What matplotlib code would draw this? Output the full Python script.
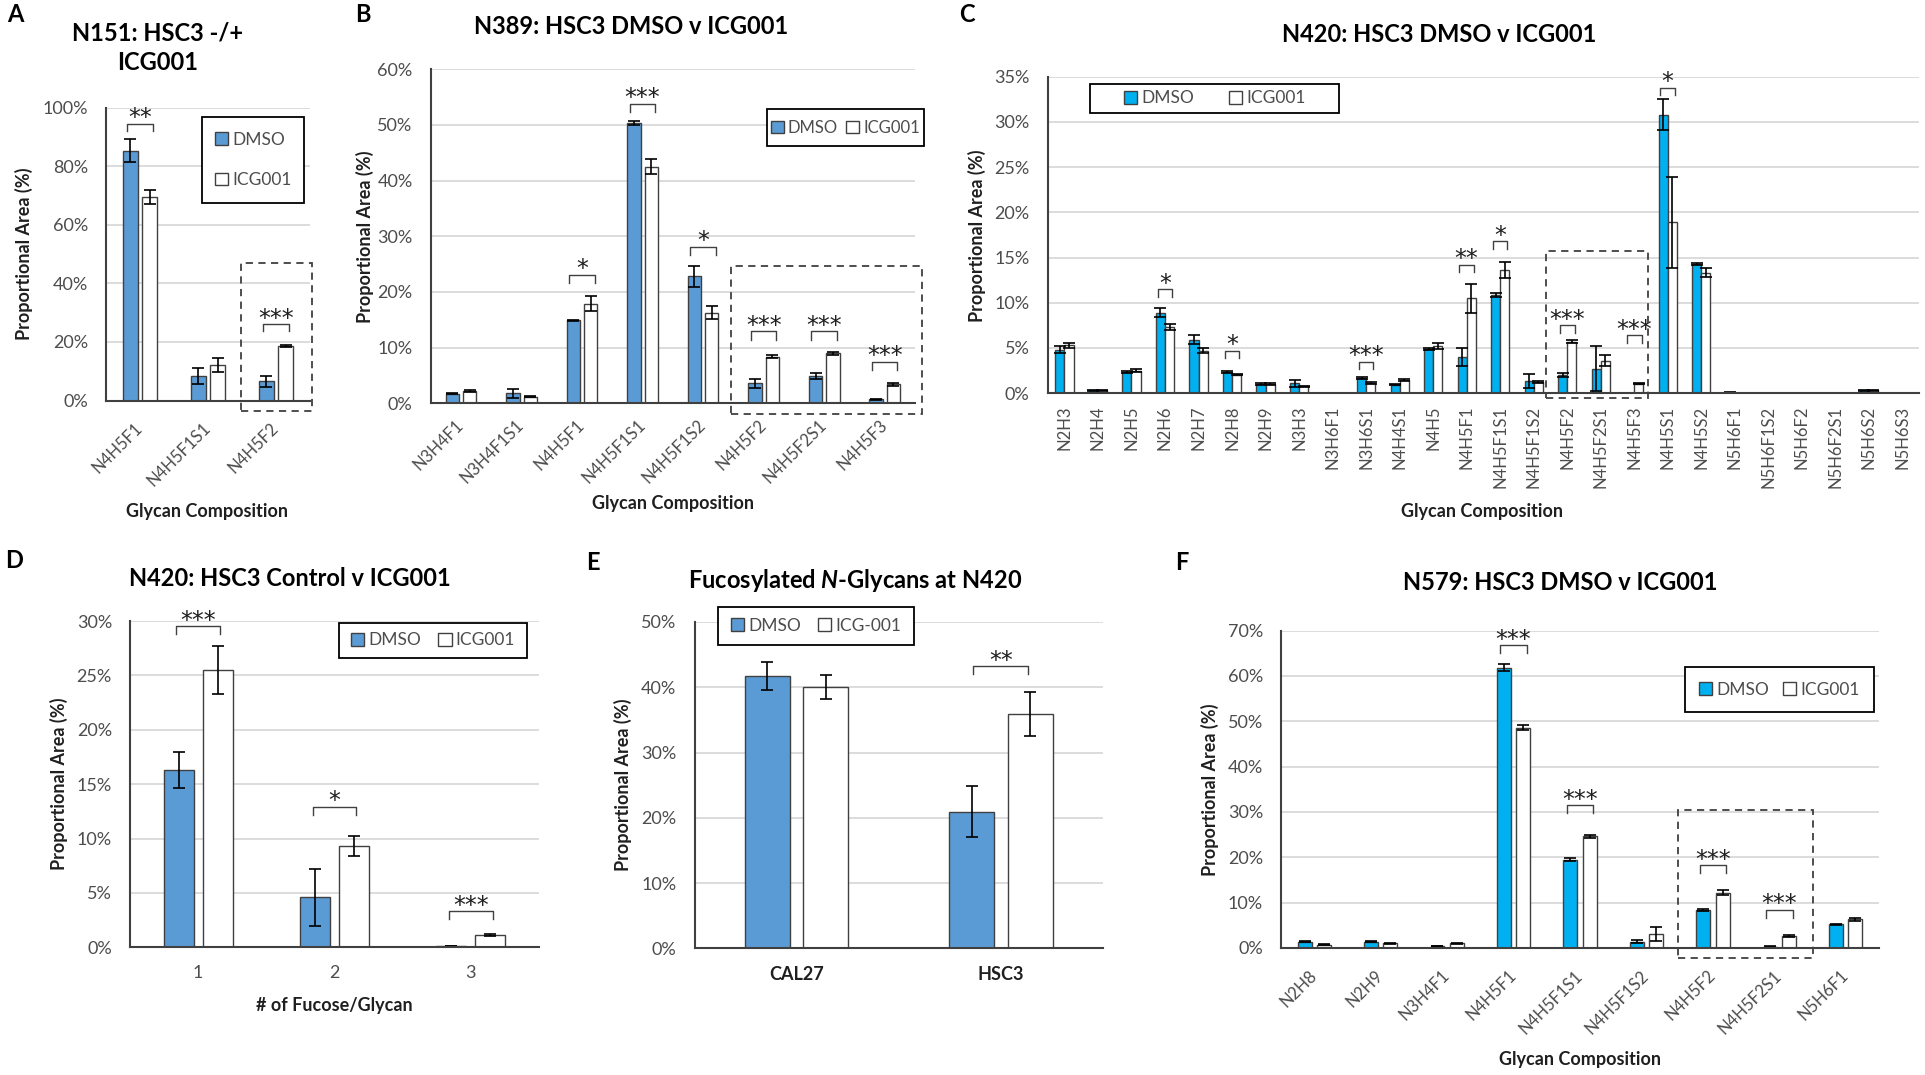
import numpy as np
import matplotlib
matplotlib.use("Agg")
import matplotlib.pyplot as plt
from matplotlib.patches import Patch, Rectangle
from matplotlib.ticker import PercentFormatter, MultipleLocator

plt.rcParams['font.family'] = ['Lato', 'DejaVu Sans']
plt.rcParams['mathtext.fontset'] = 'custom'
plt.rcParams['mathtext.it'] = 'Lato:italic:bold'
plt.rcParams['mathtext.rm'] = 'Lato:bold'

BLUE = '#5B9BD5'
CYAN = '#00B0F0'
EDGE = '#404040'
GRID = '#D9D9D9'
TICK = '#4D4D4D'
DARK = '#1F1F1F'

# ---------------- data (% proportional area) ----------------
# A  N151
a_cats = ['N4H5F1', 'N4H5F1S1', 'N4H5F2']
a_dmso = [85.3, 8.4, 6.6]
a_dmso_err = [4.0, 2.8, 1.8]
a_icg = [69.5, 12.1, 18.5]
a_icg_err = [2.5, 2.3, 0.3]
a_sig = [(0, '**', 94.5), (2, '***', 26)]

# B  N389
b_cats = ['N3H4F1', 'N3H4F1S1', 'N4H5F1', 'N4H5F1S1', 'N4H5F1S2', 'N4H5F2', 'N4H5F2S1', 'N4H5F3']
b_dmso = [1.7, 1.8, 14.9, 50.4, 22.8, 3.6, 4.9, 0.7]
b_dmso_err = [0.1, 0.8, 0.1, 0.4, 1.9, 0.8, 0.6, 0.1]
b_icg = [2.2, 1.2, 17.9, 42.5, 16.3, 8.4, 9.0, 3.4]
b_icg_err = [0.1, 0.1, 1.4, 1.3, 1.1, 0.2, 0.3, 0.3]
b_sig = [(2, '*', 23.1), (3, '***', 53.8), (4, '*', 28.1), (5, '***', 12.9), (6, '***', 12.9), (7, '***', 7.5)]

# C  N420
c_cats = ['N2H3', 'N2H4', 'N2H5', 'N2H6', 'N2H7', 'N2H8', 'N2H9', 'N3H3', 'N3H6F1', 'N3H6S1',
          'N4H4S1', 'N4H5', 'N4H5F1', 'N4H5F1S1', 'N4H5F1S2', 'N4H5F2', 'N4H5F2S1', 'N4H5F3',
          'N4H5S1', 'N4H5S2', 'N5H6F1', 'N5H6F1S2', 'N5H6F2', 'N5H6F2S1', 'N5H6S2', 'N5H6S3']
c_dmso = [4.8, 0.3, 2.35, 8.9, 5.9, 2.3, 1.05, 1.1, 0, 1.7, 0.95, 4.9, 4.0, 10.85, 1.35, 2.0, 2.7, 0.05,
          30.8, 14.3, 0.1, 0, 0, 0, 0.3, 0.05]
c_dmso_err = [0.4, 0.05, 0.1, 0.5, 0.5, 0.1, 0.1, 0.4, 0, 0.1, 0.05, 0.1, 1.0, 0.2, 0.8, 0.2, 2.5, 0,
              1.7, 0.1, 0.05, 0, 0, 0, 0.05, 0]
c_icg = [5.3, 0.3, 2.5, 7.3, 4.7, 2.05, 1.05, 0.75, 0, 1.1, 1.5, 5.2, 10.5, 13.6, 1.2, 5.7, 3.6, 1.05,
         18.9, 13.3, 0, 0, 0, 0, 0.3, 0]
c_icg_err = [0.3, 0.05, 0.2, 0.3, 0.3, 0.05, 0.1, 0.05, 0, 0.1, 0.1, 0.3, 1.6, 0.9, 0.1, 0.2, 0.6, 0.05,
             5.0, 0.5, 0, 0, 0, 0, 0.05, 0]
c_sig = [(3, '*', 11.5), (5, '*', 4.7), (9, '***', 3.5), (12, '**', 14.2), (13, '*', 16.8),
         (15, '***', 7.5), (17, '***', 6.4), (18, '*', 33.8)]

# D  N420 fucose count
d_cats = ['1', '2', '3']
d_dmso = [16.3, 4.6, 0.1]
d_dmso_err = [1.65, 2.6, 0]
d_icg = [25.5, 9.3, 1.1]
d_icg_err = [2.2, 0.9, 0.1]
d_sig = [(0, '***', 29.5), (1, '*', 12.9), (2, '***', 3.3)]

# E  fucosylated at N420
e_cats = ['CAL27', 'HSC3']
e_dmso = [41.7, 20.9]
e_dmso_err = [2.1, 3.9]
e_icg = [40.05, 35.9]
e_icg_err = [1.9, 3.3]
e_sig = [(1, '**', 43.2)]

# F  N579
f_cats = ['N2H8', 'N2H9', 'N3H4F1', 'N4H5F1', 'N4H5F1S1', 'N4H5F1S2', 'N4H5F2', 'N4H5F2S1', 'N5H6F1']
f_dmso = [1.4, 1.4, 0.45, 61.8, 19.5, 1.4, 8.4, 0.3, 5.2]
f_dmso_err = [0.15, 0.15, 0.05, 0.8, 0.3, 0.3, 0.2, 0.05, 0.2]
f_icg = [0.7, 1.0, 1.0, 48.6, 24.6, 3.1, 12.2, 2.6, 6.3]
f_icg_err = [0.1, 0.1, 0.05, 0.5, 0.4, 1.5, 0.5, 0.2, 0.4]
f_sig = [(3, '***', 66.7), (4, '***', 31.5), (6, '***', 18.2), (7, '***', 8.4)]

# ---------------- figure ----------------
W, H = 1925, 1075
fig = plt.figure(figsize=(W / 100, H / 100), dpi=100)


def add_ax(x0, y0, x1, y1):
    return fig.add_axes([x0 / W, 1 - y1 / H, (x1 - x0) / W, (y1 - y0) / H])


def draw(ax, cats, dmso, dmso_err, icg, icg_err, color, ymax, ystep, width=0.22, off=0.143):
    x = np.arange(len(cats))
    ekw = dict(ecolor='black', elinewidth=1.2, capsize=4, capthick=1.2, zorder=4)
    ax.bar(x - off, dmso, width, yerr=dmso_err, color=color, edgecolor=EDGE, lw=1, error_kw=ekw, zorder=3)
    ax.bar(x + off, icg, width, yerr=icg_err, color='white', edgecolor=EDGE, lw=1, error_kw=ekw, zorder=3)
    ax.set_xlim(-0.5, len(cats) - 0.5)
    ax.set_ylim(0, ymax)
    ax.yaxis.set_major_locator(MultipleLocator(ystep))
    ax.yaxis.set_major_formatter(PercentFormatter(100, decimals=0))
    ax.grid(axis='y', color=GRID, lw=1.3, zorder=0)
    ax.set_axisbelow(True)
    for s in ['top', 'right']:
        ax.spines[s].set_visible(False)
    for s in ['left', 'bottom']:
        ax.spines[s].set_color(EDGE)
        ax.spines[s].set_linewidth(1.5)
        ax.spines[s].set_zorder(5)
    ax.tick_params(length=0, labelcolor=TICK)
    ax.tick_params(axis='y', pad=13, labelsize=13)
    ax.tick_params(axis='x', labelsize=12)
    ax.set_xticks(x)
    ax.set_xticklabels(cats)
    return x


def sigs(ax, sig, half, ymax):
    leg = ymax * 0.024
    for i, txt, lvl in sig:
        ax.plot([i - half, i - half, i + half, i + half], [lvl - leg, lvl, lvl, lvl - leg],
                color=EDGE, lw=1, clip_on=False, zorder=5)
        ax.annotate(txt, xy=(i, lvl), xytext=(0, -1), textcoords='offset points', ha='center',
                    va='baseline', fontsize=17, family='DejaVu Sans', color=DARK)


def dbox(ax, x0, x1, y0, y1):
    ax.add_patch(Rectangle((x0, y0), x1 - x0, y1 - y0, fill=False, ls=(0, (4, 3)),
                           edgecolor=EDGE, lw=1.3, clip_on=False, zorder=6))


def legend(ax, color, box, ncol, cs=1.0, ls=0.5, fs=12.5, labels=('DMSO', 'ICG001')):
    x0, x1, y0, y1 = box
    ax.add_patch(Rectangle((x0, y0), x1 - x0, y1 - y0, transform=ax.transAxes, facecolor='white',
                           edgecolor='black', lw=1.3, clip_on=False, zorder=7))
    hs = [Patch(facecolor=color, edgecolor=EDGE), Patch(facecolor='white', edgecolor=EDGE)]
    lg = ax.legend(hs, labels, loc='center', bbox_to_anchor=((x0 + x1) / 2, (y0 + y1) / 2), ncol=ncol,
                   frameon=False, fontsize=fs, labelcolor=TICK, handlelength=0.75, handleheight=0.75,
                   handletextpad=0.25, columnspacing=cs, labelspacing=ls, borderpad=0)
    lg.set_zorder(8)


def labels(ax, xl, yl, xpos, ypos):
    if xl:
        ax.set_xlabel(xl, fontsize=13, fontweight='bold', color=DARK, va='center')
        ax.xaxis.set_label_coords(*xpos)
    ax.set_ylabel(yl, fontsize=13, fontweight='bold', color=DARK, va='center')
    ax.yaxis.set_label_coords(*ypos)


def rot45(ax, pad):
    ax.tick_params(axis='x', pad=pad)
    for t in ax.get_xticklabels():
        t.set_rotation(45)
        t.set_ha('right')
        t.set_va('center')
        t.set_rotation_mode('anchor')


YL = 'Proportional Area (%)'
GC = 'Glycan Composition'

# A
ax = add_ax(106, 107.5, 310, 400.6)
draw(ax, a_cats, a_dmso, a_dmso_err, a_icg, a_icg_err, BLUE, 100, 20)
sigs(ax, a_sig, 0.19, 100)
dbox(ax, 1.485, 2.53, -3.5, 47)
legend(ax, BLUE, (0.471, 0.971, 0.674, 0.968), 1, ls=1.4)
rot45(ax, 18)
labels(ax, GC, YL, (0.495, -0.38), (-0.40, 0.5))

# B
ax = add_ax(430.7, 69.3, 915, 403.3)
draw(ax, b_cats, b_dmso, b_dmso_err, b_icg, b_icg_err, BLUE, 60, 10)
sigs(ax, b_sig, 0.21, 60)
dbox(ax, 4.46, 7.62, -1.9, 24.7)
legend(ax, BLUE, (0.694, 1.019, 0.770, 0.881), 2, cs=0.5, fs=12)
rot45(ax, 14)
labels(ax, GC, YL, (0.5, -0.30), (-0.136, 0.5))

# C
ax = add_ax(1047.7, 76.7, 1919, 393.2)
draw(ax, c_cats, c_dmso, c_dmso_err, c_icg, c_icg_err, CYAN, 35, 5, width=0.27, off=0.135)
sigs(ax, c_sig, 0.22, 35)
dbox(ax, 14.37, 17.41, -0.53, 15.7)
legend(ax, CYAN, (0.049, 0.334, 0.885, 0.978), 2, cs=2.0)
ax.tick_params(axis='x', pad=9)
for t in ax.get_xticklabels():
    t.set_rotation(90)
labels(ax, GC, YL, (0.498, -0.375), (-0.081, 0.497))

# D
ax = add_ax(130, 621, 539, 947.3)
draw(ax, d_cats, d_dmso, d_dmso_err, d_icg, d_icg_err, BLUE, 30, 5)
ax.tick_params(axis='x', pad=13, labelsize=13)
sigs(ax, d_sig, 0.16, 30)
legend(ax, BLUE, (0.511, 0.971, 0.887, 0.994), 2, cs=1.0)
labels(ax, '# of Fucose/Glycan', YL, (0.5, -0.177), (-0.174, 0.5))

# E
ax = add_ax(694.5, 622, 1103, 948.3)
draw(ax, e_cats, e_dmso, e_dmso_err, e_icg, e_icg_err, BLUE, 50, 10)
ax.tick_params(axis='x', pad=13, labelsize=13)
sigs(ax, e_sig, 0.135, 50)
legend(ax, BLUE, (0.057, 0.538, 0.930, 1.047), 2, cs=1.0, labels=('DMSO', 'ICG-001'))
for t in ax.get_xticklabels():
    t.set_fontweight('bold')
    t.set_color(DARK)
labels(ax, None, YL, None, (-0.174, 0.5))

# F
ax = add_ax(1281, 630.5, 1879, 948)
draw(ax, f_cats, f_dmso, f_dmso_err, f_icg, f_icg_err, CYAN, 70, 10, width=0.21, off=0.145)
sigs(ax, f_sig, 0.2, 70)
dbox(ax, 5.47, 7.5, -2.1, 30.5)
legend(ax, CYAN, (0.676, 0.992, 0.743, 0.885), 2, cs=0.8)
rot45(ax, 18)
labels(ax, GC, YL, (0.5, -0.35), (-0.119, 0.5))

# titles and panel letters
titles = [('N151: HSC3 -/+\nICG001', 158, 48), ('N389: HSC3 DMSO v ICG001', 631, 27),
          ('N420: HSC3 DMSO v ICG001', 1439, 34), ('N420: HSC3 Control v ICG001', 290, 579),
          ('Fucosylated $\\mathit{N}$-Glycans at N420', 855.5, 580.5), ('N579: HSC3 DMSO v ICG001', 1560, 582)]
for txt, x, y in titles:
    fig.text(x / W, 1 - y / H, txt, ha='center', va='center', fontsize=17, fontweight='bold',
             linespacing=1.35)
for txt, x, y in [('A', 15, 15), ('B', 363, 15), ('C', 967, 15), ('D', 14, 560), ('E', 593, 562), ('F', 1182, 562)]:
    fig.text(x / W, 1 - y / H, txt, ha='center', va='center', fontsize=17, fontweight='bold')

fig.savefig('out.png', dpi=100, facecolor='white')
